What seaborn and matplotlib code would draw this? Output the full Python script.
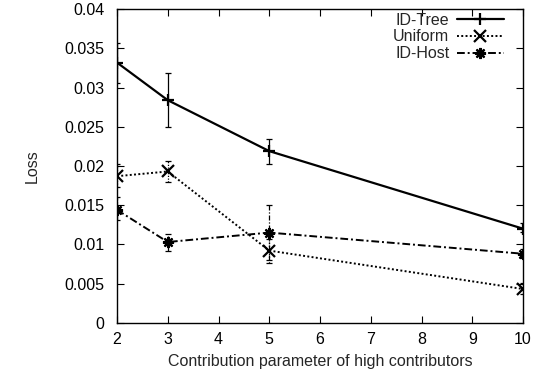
import numpy as np
import pandas as pd
import matplotlib
matplotlib.use("Agg")
import matplotlib.pyplot as plt
import seaborn as sns

# Contribution parameter values
contrib = [2, 3, 5, 10]

# Mean loss per scheme
tree_loss = [0.0332, 0.0284, 0.0219, 0.0120]
uniform_loss = [0.0187, 0.0193, 0.0092, 0.0043]
host_loss = [0.0144, 0.0103, 0.0115, 0.0088]

# Error bar bounds (low / high)
tree_lo = [0.0306, 0.0250, 0.0203, 0.0116]
tree_hi = [0.0357, 0.0319, 0.0235, 0.0127]
uniform_lo = [0.0173, 0.0180, 0.0076, 0.0037]
uniform_hi = [0.0203, 0.0207, 0.0107, 0.0051]
host_lo = [0.0131, 0.0092, 0.0080, 0.0082]
host_hi = [0.0161, 0.0113, 0.0150, 0.0094]

y_ticks = [0, 0.005, 0.01, 0.015, 0.02, 0.025, 0.03, 0.035, 0.04]
y_tick_labels = ["0", "0.005", "0.01", "0.015", "0.02", "0.025", "0.03", "0.035", "0.04"]
x_ticks = [2, 3, 4, 5, 6, 7, 8, 9, 10]

FS = 11.5

sns.set_style("ticks")
plt.rcParams["font.family"] = ["Liberation Sans", "DejaVu Sans"]
plt.rcParams["xtick.direction"] = "in"
plt.rcParams["ytick.direction"] = "in"

fig = plt.figure(figsize=(5.46, 3.80), dpi=100)
ax = fig.add_axes([117 / 546, 1 - 322.7 / 380, (523 - 117) / 546, (322.7 - 9.3) / 380])

series = [
    ("ID-Tree", tree_loss, tree_lo, tree_hi, "-", "+", 1.6),
    ("Uniform", uniform_loss, uniform_lo, uniform_hi, (0, (1, 1.2)), "x", 1.4),
    ("ID-Host", host_loss, host_lo, host_hi, (0, (4, 1.5, 1, 1.5)), (8, 2, 0), 1.4),
]

for name, vals, lo, hi, ls, mk, lw in series:
    df = pd.DataFrame({"x": contrib, "y": vals})
    sns.lineplot(data=df, x="x", y="y", ax=ax, color="black", linestyle=ls,
                 linewidth=lw, marker=mk, markersize=8, markeredgewidth=1.6,
                 markeredgecolor="black", label=name)
    v = np.array(vals)
    yerr = np.vstack([v - np.array(lo), np.array(hi) - v])
    eb = ax.errorbar(contrib, vals, yerr=yerr, fmt="none", ecolor="black",
                     elinewidth=0.9, capsize=2.5, capthick=0.9)
    for coll in eb[2]:
        coll.set_linestyle(ls if ls != "-" else "solid")

ax.set_xlim(2, 10)
ax.set_ylim(0, 0.04)
ax.set_xticks(x_ticks)
ax.set_xticklabels([str(t) for t in x_ticks])
ax.set_yticks(y_ticks)
ax.set_yticklabels(y_tick_labels)
ax.tick_params(axis="both", which="major", direction="in", length=5, width=0.8,
               labelsize=FS, top=True, right=True, colors="black")
ax.tick_params(axis="x", pad=7)
ax.tick_params(axis="y", pad=9)
for sp in ax.spines.values():
    sp.set_visible(True)
    sp.set_linewidth(1.0)
    sp.set_color("black")

ax.set_xlabel("Contribution parameter of high contributors", fontsize=FS)
ax.xaxis.set_label_coords(0.5, -0.10)
ax.set_ylabel("Loss", fontsize=FS)
ax.yaxis.set_label_coords(-0.19, 0.5)

leg = ax.legend(loc="upper right", bbox_to_anchor=(0.97, 1.01), frameon=False,
                markerfirst=False, handlelength=3.0, handletextpad=0.45,
                labelspacing=0.12, fontsize=FS, borderaxespad=0.0)

fig.savefig("out.png", dpi=100)
